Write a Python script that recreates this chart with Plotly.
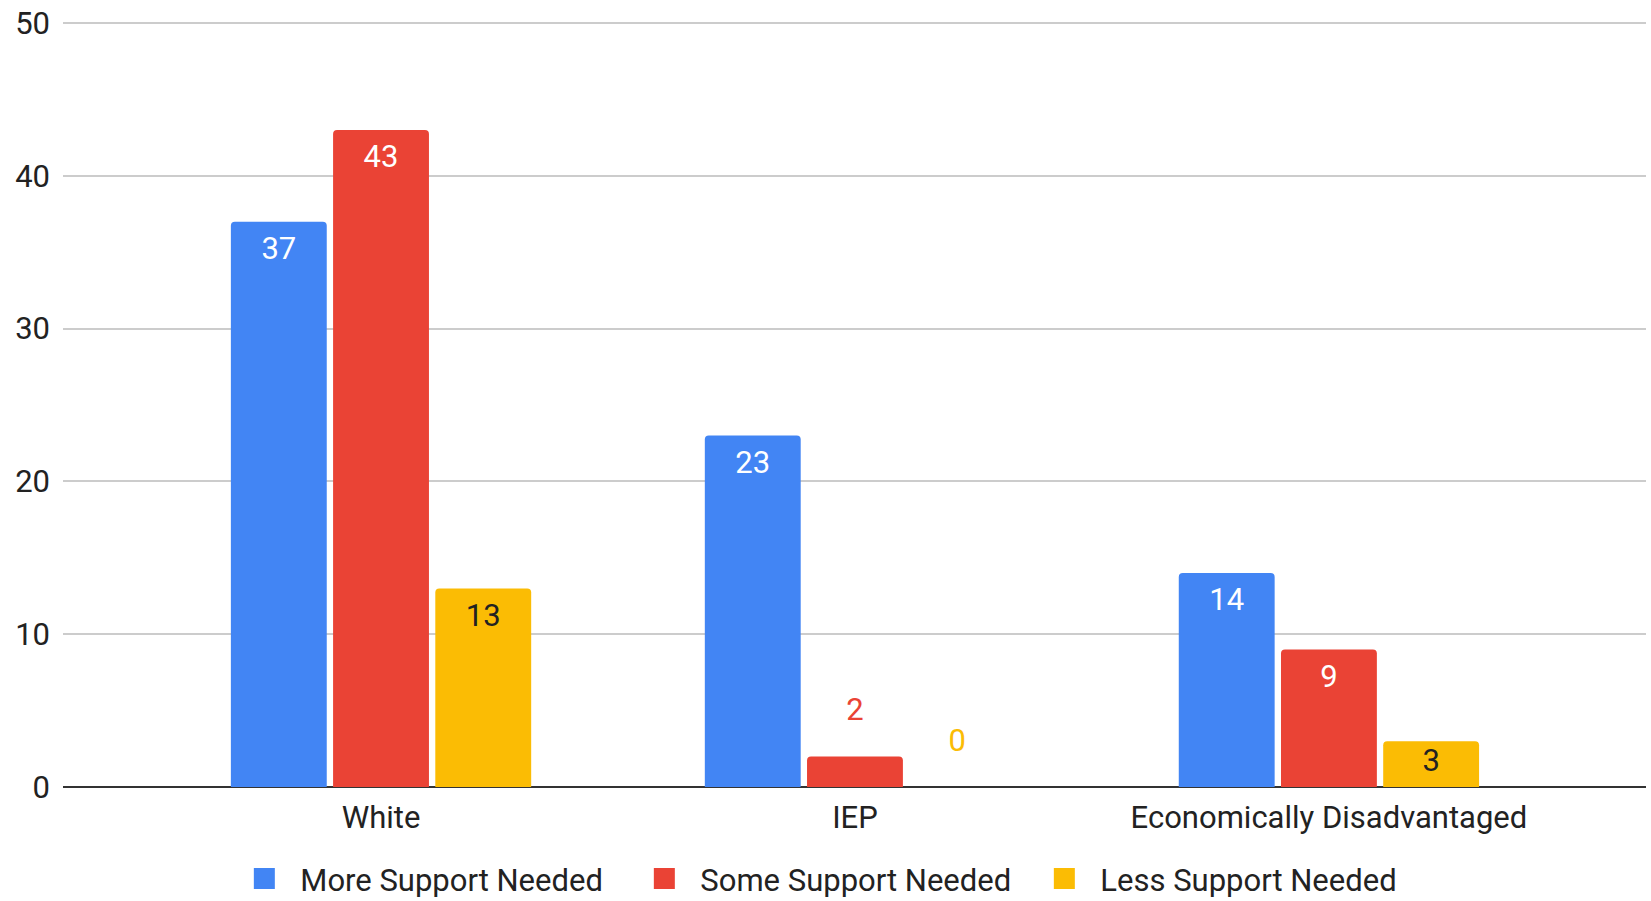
import plotly.graph_objects as go

categories = ["White", "IEP", "Economically Disadvantaged"]
series_names = ["More Support Needed", "Some Support Needed", "Less Support Needed"]
more_support = [37, 23, 14]
some_support = [43, 2, 9]
less_support = [13, 0, 3]
y_ticks = [0, 10, 20, 30, 40, 50]

colors = ["#4285F4", "#EA4335", "#FBBC04"]
inside_colors = ["#FFFFFF", "#FFFFFF", "#222222"]
FONT = "Roboto"
FS = 31
BARGAP = 0.353

fig = go.Figure()
all_series = [more_support, some_support, less_support]
for i, (name, vals, col) in enumerate(zip(series_names, all_series, colors)):
    fig.add_trace(go.Bar(
        x=categories, y=vals, name=name, showlegend=False, offsetgroup=str(i),
        marker=dict(color=col, cornerradius=4, line=dict(width=0)),
        cliponaxis=False, hoverinfo="x+y+name",
    ))
for i, (name, vals, col, icol) in enumerate(zip(series_names, all_series, colors, inside_colors)):
    # value labels: inside the top of tall bars, above short bars
    positions = ["bottom center" if v >= 3 else "top center" for v in vals]
    sizes = [21 if v >= 5 else (9 if v >= 3 else 44) for v in vals]
    tcolors = [icol if v >= 3 else col for v in vals]
    fig.add_trace(go.Scatter(
        x=categories, y=vals, offsetgroup=str(i),
        mode="markers+text", text=[str(v) for v in vals],
        textposition=positions, textfont=dict(family=FONT, size=FS, color=tcolors),
        marker=dict(size=sizes, color="rgba(0,0,0,0)", line=dict(width=0, color="rgba(0,0,0,0)")),
        showlegend=False, hoverinfo="skip", cliponaxis=False,
    ))
for name, col in zip(series_names, colors):
    fig.add_trace(go.Scatter(
        x=[None], y=[None], mode="markers", name=name, xaxis="x2",
        marker=dict(symbol="square", size=16, color=col, line=dict(color=col, width=5)),
    ))

fig.update_layout(
    width=1651, height=901,
    margin=dict(l=63, r=5, t=22, b=114),
    paper_bgcolor="white", plot_bgcolor="white",
    barmode="group", bargap=BARGAP, bargroupgap=0.062,
    scattermode="group", scattergap=BARGAP,
    font=dict(family=FONT, size=FS, color="#222222"),
    legend=dict(orientation="h", xref="container", yref="container",
                x=0.1383, xanchor="left", y=0.0245, yanchor="middle",
                font=dict(family=FONT, size=FS, color="#222222"), itemsizing="trace",
                itemwidth=62, entrywidth=323, entrywidthmode="pixels"),
    xaxis2=dict(overlaying="x", visible=False, range=[0, 1]),
)
fig.update_yaxes(range=[0, 50.07], tickvals=y_ticks, showgrid=True, gridcolor="#CCCCCC", gridwidth=1.5,
                 zeroline=True, zerolinecolor="#333333", zerolinewidth=2, automargin=False,
                 ticklabeloverflow="allow",
                 ticklabelstandoff=12, tickfont=dict(family=FONT, size=FS, color="#222222"))
fig.layout.xaxis.update(showgrid=False, showline=False, ticks="", ticklabelstandoff=9,
                        automargin=False, range=[-0.671, 2.669],
                        tickfont=dict(family=FONT, size=FS, color="#222222"))

fig.write_html("out.html", config={"displayModeBar": False},
               post_script="document.body.style.margin='0';")
